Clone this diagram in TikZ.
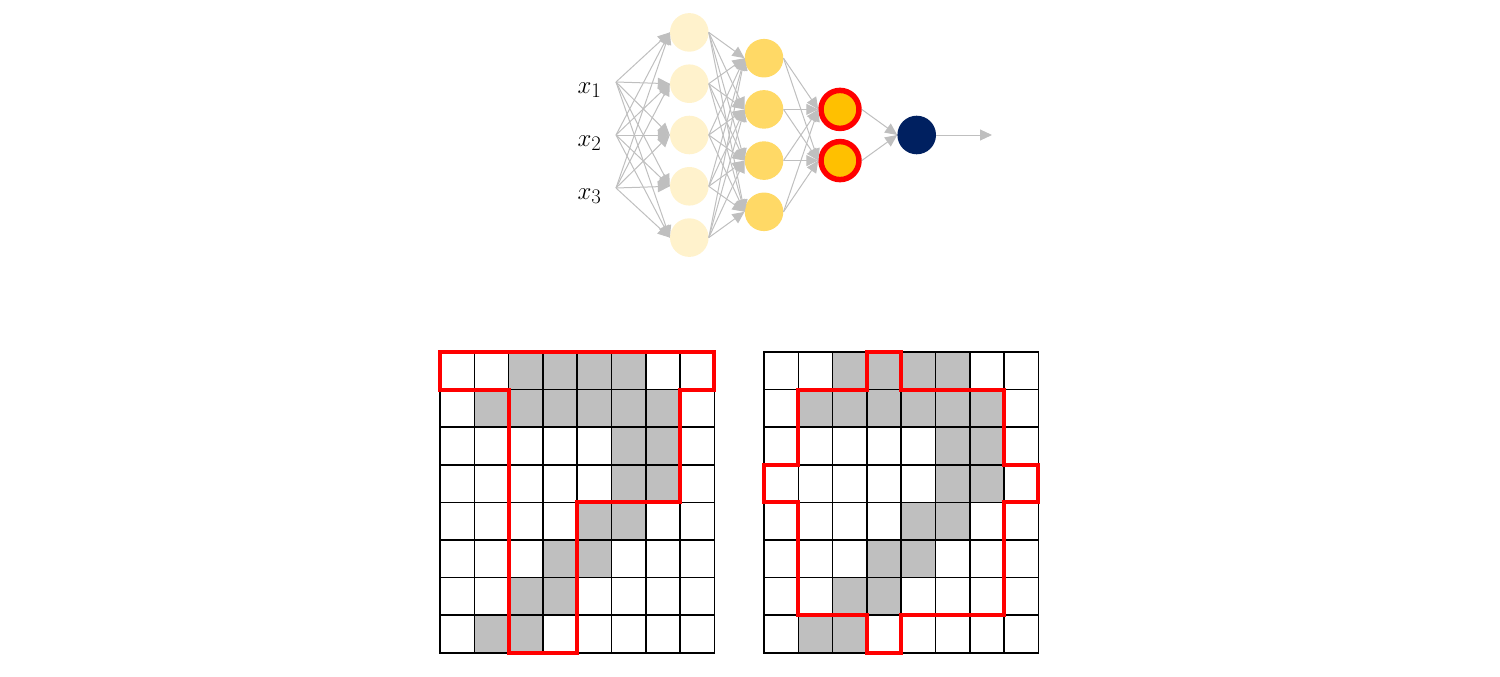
\documentclass[tikz,border=0pt]{standalone}
\usetikzlibrary{arrows.meta}
\definecolor{paleyellow}{HTML}{FFF2CC}
\definecolor{midyellow}{HTML}{FFD966}
\definecolor{deepyellow}{HTML}{FFC000}
\definecolor{navy}{HTML}{002060}
\definecolor{linkgray}{HTML}{BFBFBF}
\tikzset{
  neuron/.style={circle, minimum size=38.6pt, inner sep=0pt},
  link/.style={linkgray, line width=1pt, -{Triangle[length=12pt,width=11pt]}},
  cell/.style={fill=linkgray},
  gridline/.style={black, line width=1.5pt, line cap=rect},
  region/.style={red, line width=4pt, line join=miter},
}
\begin{document}
\begin{tikzpicture}[x=1pt, y=-1pt]
\useasboundingbox (0,0) rectangle (1500,677);
% network
\foreach \i/\y in {1/82,2/135,3/188} {
  \coordinate (in\i) at (616,\y);
  \node[anchor=base east, font=\fontsize{24.88}{30}\selectfont] (x\i) at (605,\y+11) {$x_\i$};
}
\foreach \i in {1,...,5}
  \node[neuron, fill=paleyellow] (a\i) at (689.3,{135+(\i-3)*51.3}) {};
\foreach \i in {1,...,4}
  \node[neuron, fill=midyellow] (b\i) at (764,{135+(\i-2.5)*51.2}) {};
\foreach \i in {1,2}
  \node[neuron, fill=deepyellow, draw=red, line width=5.5pt, minimum size=38pt] (c\i) at (840,{135+(\i-1.5)*51.2}) {};
\node[neuron, fill=navy] (out) at (916.7,135) {};
\coordinate (end) at (992,135);
\foreach \i in {1,2,3} \foreach \j in {1,...,5} \draw[link] (in\i) -- (a\j.west);
\foreach \i in {1,...,5} \foreach \j in {1,...,4} \draw[link] (a\i.east) -- (b\j.west);
\foreach \i in {1,...,4} \foreach \j in {1,2} \draw[link] (b\i.east) -- (c\j.west);
\foreach \i in {1,2} \draw[link] (c\i.east) -- (out.west);
\draw[link] (out.east) -- (end);
% digit grids
\foreach \gx in {440,764} {
  \begin{scope}[shift={(\gx,352)}, x=34.3pt, y=-37.6pt]
    \foreach \r/\cols in {0/{2,3,4,5},1/{1,2,3,4,5,6},2/{5,6},3/{5,6},4/{4,5},5/{3,4},6/{2,3},7/{1,2}}
      \foreach \c in \cols \fill[cell] (\c,\r) rectangle ++(1,1);
    \foreach \k in {0,...,8} \draw[gridline] (\k,0) -- (\k,8) (0,\k) -- (8,\k);
  \end{scope}
}
\begin{scope}[shift={(440,352)}, x=34.3pt, y=-37.6pt]
  \draw[region] (0,0) -- (8,0) -- (8,1) -- (7,1) -- (7,4) -- (4,4) -- (4,8) -- (2,8) -- (2,1) -- (0,1) -- cycle;
\end{scope}
\begin{scope}[shift={(764,352)}, x=34.3pt, y=-37.6pt]
  \draw[region] (3,0) -- (4,0) -- (4,1) -- (7,1) -- (7,3) -- (8,3) -- (8,4) -- (7,4) -- (7,7) -- (4,7) -- (4,8) -- (3,8)
    -- (3,7) -- (1,7) -- (1,4) -- (0,4) -- (0,3) -- (1,3) -- (1,1) -- (3,1) -- cycle;
\end{scope}
\end{tikzpicture}
\end{document}
